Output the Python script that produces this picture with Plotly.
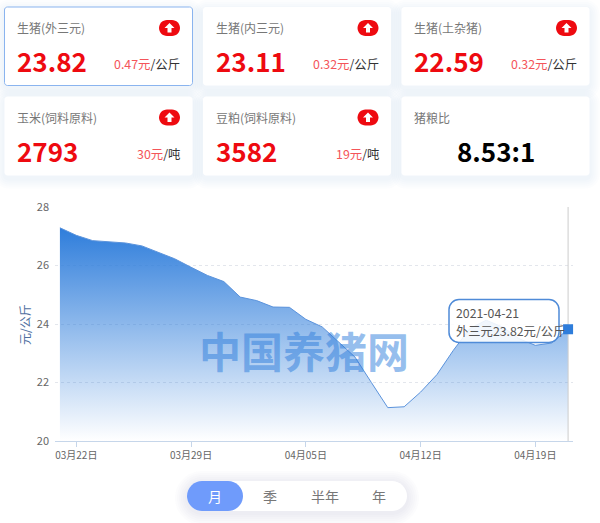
import plotly.graph_objects as go

# ---- data ----
dates = ["03月21日","03月22日","03月23日","03月24日","03月25日","03月26日","03月27日","03月28日",
         "03月29日","03月30日","03月31日","04月01日","04月02日","04月03日","04月04日","04月05日",
         "04月06日","04月07日","04月08日","04月09日","04月10日","04月11日","04月12日","04月13日",
         "04月14日","04月15日","04月16日","04月17日","04月18日","04月19日","04月20日","04月21日"]
prices = [27.29,27.03,26.85,26.82,26.77,26.67,26.44,26.23,25.94,25.66,25.45,24.92,24.80,24.58,24.57,24.16,
          23.90,23.40,22.87,22.00,21.14,21.17,21.67,22.27,23.10,23.84,24.13,23.90,23.50,23.27,23.35,23.82]
tick_dates = ["03月22日","03月29日","04月05日","04月12日","04月19日"]
y_ticks = [20,22,24,26,28]

card_titles = ["生猪(外三元)","生猪(内三元)","生猪(土杂猪)","玉米(饲料原料)","豆粕(饲料原料)","猪粮比"]
card_values = ["23.82","23.11","22.59","2793","3582","8.53:1"]
card_changes = ["0.47元","0.32元","0.32元","30元","19元",""]
card_units = ["/公斤","/公斤","/公斤","/吨","/吨",""]
ranges = ["月","季","半年","年"]
tooltip_lines = ["2021-04-21","外三元23.82元/公斤"]
watermark = "中国养猪网"
y_title = "元/公斤"

W, H = 600, 523
CJK = "Noto Sans CJK SC"
px = lambda x: x / W
py = lambda y: 1 - y / H

def rrect(x0, y0, x1, y1, r):
    X0, X1, Y0, Y1 = px(x0), px(x1), py(y0), py(y1)
    rx, ry = r / W, r / H
    kx, ky = rx * 0.45, ry * 0.45
    return (f"M{X0+rx},{Y0} L{X1-rx},{Y0} C{X1-kx},{Y0} {X1},{Y0-ky} {X1},{Y0-ry} L{X1},{Y1+ry} "
            f"C{X1},{Y1+ky} {X1-kx},{Y1} {X1-rx},{Y1} L{X0+rx},{Y1} C{X0+kx},{Y1} {X0},{Y1+ky} {X0},{Y1+ry} "
            f"L{X0},{Y0-ry} C{X0},{Y0-ky} {X0+kx},{Y0} {X0+rx},{Y0} Z")

def poly(points):
    return "M" + " L".join(f"{px(a)},{py(b)}" for a, b in points) + " Z"

shapes, annos = [], []

def shape(path, fill, line=None, lw=0, layer="below", opacity=1):
    shapes.append(dict(type="path", xref="paper", yref="paper", path=path, fillcolor=fill,
                       line=dict(color=line or "rgba(0,0,0,0)", width=lw), layer=layer, opacity=opacity))

def text(x, y, s, size, color, anchor="left", bold=False, family=CJK, opacity=1):
    annos.append(dict(xref="paper", yref="paper", x=px(x), y=py(y), text=f"<b>{s}</b>" if bold else s,
                      showarrow=False, xanchor=anchor, yanchor="middle", opacity=opacity, borderpad=0, borderwidth=0,
                      font=dict(size=size, color=color, family=family)))

def shadow(x0, y0, x1, y1, r, spread=10, dy=3, alpha=0.014):
    for i in range(spread, 0, -2):
        shape(rrect(x0 - i, y0 - i + dy, x1 + i, y1 + i + dy, r + i), f"rgba(90,115,175,{alpha})")

card_x = [4.5, 203, 401.5]
card_w = 188
rows = [(7, 85.5), (96.5, 175.5)]
RED = "#ee0a10"

for i in range(6):
    x0 = card_x[i % 3]
    y0, y1 = rows[i // 3]
    x1 = x0 + card_w
    shadow(x0, y0, x1, y1, 4)
for i in range(6):
    x0 = card_x[i % 3]
    y0, y1 = rows[i // 3]
    x1 = x0 + card_w
    first = i == 0
    shape(rrect(x0, y0, x1, y1, 3), "#ffffff", "#8ab4ef" if first else None, 1 if first else 0)
    text(x0 + 12.5, y0 + 21, card_titles[i], 12, "#777777")
    if i < 5:
        text(x0 + 12.5, y0 + 54, card_values[i], 26, RED, bold=True)
        text(x0 + 175.5, y0 + 57,
             f"<span style='color:#f4555a'>{card_changes[i]}</span>{card_units[i]}", 12.4, "#333333", anchor="right")
        bx0, bx1 = x0 + 154.5, x0 + 175.5
        by0 = y0 + 13
        shape(rrect(bx0, by0, bx1, by0 + 16, 8), RED)
        cx = (bx0 + bx1) / 2
        cy = by0 + 8
        shape(poly([(cx, cy - 5), (cx + 5, cy), (cx + 2, cy), (cx + 2, cy + 4.5),
                    (cx - 2, cy + 4.5), (cx - 2, cy), (cx - 5, cy)]), "#ffffff")
    else:
        text((x0 + x1) / 2, y0 + 54, card_values[i], 26, "#000000", anchor="center", bold=True)

# range switch
shadow(187, 481, 407, 511, 15, spread=12, dy=2, alpha=0.02)
shape(rrect(187, 481, 407, 511, 15), "#ffffff")
shape(rrect(187, 481, 243, 511, 15), "#6f9bfb")
for label, cx in zip(ranges, [214.5, 269.5, 324.5, 379.5]):
    text(cx, 496, label, 14, "#ffffff" if label == "月" else "#777777", anchor="center")

# watermark
text(303.5, 349.5, watermark, 42, "rgba(46,125,219,0.5)", anchor="center", bold=True)

# y axis title
annos.append(dict(xref="paper", yref="paper", x=px(24), y=py(325), text=y_title, textangle=-90, showarrow=False,
                  borderpad=0, font=dict(size=12, color="#4f6f9f", family=CJK), xanchor="center", yanchor="middle"))

# tooltip
shape(rrect(449, 299.5, 559, 342.5, 10), "rgba(255,255,255,0.88)", "#4f8bd8", 1.5, layer="above")
text(456, 313, tooltip_lines[0], 12.3, "#555555")
text(456, 331, tooltip_lines[1], 12.3, "#555555")

fig = go.Figure()
fig.add_trace(go.Scatter(x=dates, y=prices, mode="lines", line=dict(color="#5b93dc", width=1),
                         fill="tozeroy",
                         fillgradient=dict(type="vertical", start=20, stop=27.3,
                                           colorscale=[[0, "rgba(46,125,219,0)"], [1, "rgba(46,125,219,1)"]]),
                         hoverinfo="skip", showlegend=False))
fig.add_trace(go.Scatter(x=[dates[-1], dates[-1]], y=[y_ticks[0], y_ticks[-1]], mode="lines",
                         line=dict(color="#cccccc", width=1), hoverinfo="skip", showlegend=False))
fig.add_trace(go.Scatter(x=[dates[-1]], y=[prices[-1]], mode="markers", cliponaxis=False,
                         marker=dict(symbol="square", size=10, color="#2e7ddb"),
                         hoverinfo="skip", showlegend=False))

fig.update_layout(
    width=W, height=H, margin=dict(l=0, r=0, t=0, b=0, autoexpand=False), paper_bgcolor="#ffffff",
    plot_bgcolor="rgba(0,0,0,0)",
    font=dict(family=CJK, size=11, color="#666666"), shapes=shapes, annotations=annos, showlegend=False,
    xaxis=dict(type="category", categoryorder="array", categoryarray=dates, domain=[px(55), px(573)],
               automargin=False, range=[-0.3, 31.3], tickmode="array", tickvals=tick_dates, ticktext=tick_dates,
               showgrid=False, showline=True, linecolor="#c6d6ea", linewidth=1, ticks="outside",
               ticklen=5, tickcolor="#c6d6ea", tickfont=dict(size=10, color="#666666"), zeroline=False),
    yaxis=dict(domain=[py(441), py(207)], range=[20, 28], tickmode="array", tickvals=y_ticks, showline=False,
               automargin=False, gridcolor="#e3e6ec", griddash="3px,3px", gridwidth=1, zeroline=False, ticks="",
               ticklabelstandoff=5, tickfont=dict(size=11, color="#666666")),
)
fig.write_html("out.html", config={"displayModeBar": False}, post_script="document.body.style.margin='0';")
